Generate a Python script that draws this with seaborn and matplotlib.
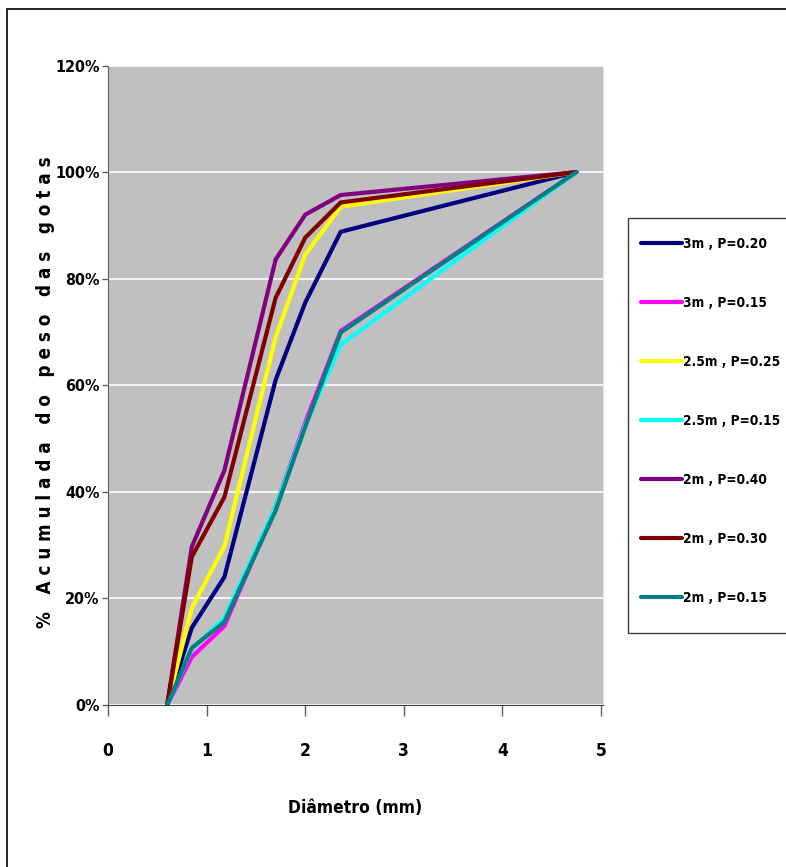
import numpy as np
import pandas as pd
import matplotlib
matplotlib.use("Agg")
import matplotlib.pyplot as plt
import seaborn as sns
from matplotlib.patches import Rectangle
from matplotlib.ticker import FuncFormatter

# sieve diameters (mm)
diametro = [0.6, 0.85, 1.18, 1.7, 2.0, 2.36, 4.75]

series = ["3m , P=0.20", "3m , P=0.15", "2.5m , P=0.25", "2.5m , P=0.15",
          "2m , P=0.40", "2m , P=0.30", "2m , P=0.15"]

# cumulative weight fractions
s_3m_020 = [0.0, 0.145, 0.24, 0.61, 0.755, 0.888, 1.0]
s_3m_015 = [0.0, 0.09, 0.148, 0.372, 0.53, 0.702, 1.0]
s_25m_025 = [0.0, 0.182, 0.298, 0.69, 0.845, 0.935, 1.0]
s_25m_015 = [0.0, 0.105, 0.163, 0.372, 0.525, 0.676, 1.0]
s_2m_040 = [0.0, 0.297, 0.44, 0.836, 0.92, 0.957, 1.0]
s_2m_030 = [0.0, 0.278, 0.39, 0.764, 0.877, 0.943, 1.0]
s_2m_015 = [0.0, 0.107, 0.156, 0.365, 0.522, 0.699, 1.0]

colors = ["#000080", "#FF00FF", "#FFFF00", "#00FFFF", "#800080", "#800000", "#008080"]

values = [s_3m_020, s_3m_015, s_25m_025, s_25m_015, s_2m_040, s_2m_030, s_2m_015]
rows = []
for name, vals in zip(series, values):
    for d, v in zip(diametro, vals):
        rows.append({"Diametro": d, "Acum": v, "Serie": name})
df = pd.DataFrame(rows)

sns.set_style("white", {"axes.facecolor": "#C0C0C0"})
plt.rcParams['font.family'] = ['DejaVu Sans']
plt.rcParams['font.stretch'] = 'condensed'
plt.rcParams['font.weight'] = 'bold'
plt.rcParams['text.color'] = 'black'
plt.rcParams['xtick.color'] = 'black'
plt.rcParams['ytick.color'] = 'black'

fig = plt.figure(figsize=(7.86, 8.67), dpi=100)
ax = fig.add_axes([108/786, 1 - 705/867, (603 - 108)/786, (705 - 65.5)/867])

sns.lineplot(data=df, x="Diametro", y="Acum", hue="Serie", hue_order=series,
             palette=colors, linewidth=3.0, ax=ax, legend=True, sort=False)

ax.set_xlim(0, 5.02)
ax.set_ylim(0, 1.2)
ax.set_xticks([0, 1, 2, 3, 4, 5])
ax.set_yticks(np.arange(0, 1.21, 0.2))
ax.yaxis.set_major_formatter(FuncFormatter(lambda v, p: f"{v*100:.0f}%"))
ax.grid(axis='y', color='white', linewidth=1.2)
ax.set_axisbelow(True)

ax.spines['top'].set_visible(False)
ax.spines['right'].set_color('#E0E0E0')
ax.spines['left'].set_color('#606060')
ax.spines['bottom'].set_color('#404040')
ax.tick_params(axis='y', direction='out', length=4, width=1, color='#606060',
               labelsize=11.5, labelcolor='black', pad=2, left=True)
ax.tick_params(axis='x', direction='out', length=8, width=1, color='#606060',
               labelsize=12.5, labelcolor='black', pad=19, bottom=True)
for lbl in ax.get_xticklabels() + ax.get_yticklabels():
    lbl.set_fontweight('bold')

ax.set_xlabel("Diâmetro (mm)", fontsize=12.5, fontweight='bold', labelpad=28, color='black')
ax.set_ylabel("")
fig.text(46/786, 1 - 392/867, "%   A c u m u l a d a   d o   p e s o   d a s   g o t a s",
         rotation=90, ha='center', va='center', fontsize=13.5, fontweight='bold', color='black')

# legend box
fig.patches.append(Rectangle((628/786, 1 - 633/867), 0.3, (633 - 218)/867,
                             transform=fig.transFigure, facecolor='white',
                             edgecolor='#404040', linewidth=1.0, zorder=1))

handles, labels = ax.get_legend_handles_labels()
ax.legend_.remove()
leg = fig.legend(handles, labels, loc='upper left',
                 bbox_to_anchor=(641/786, 1 - 237/867), borderaxespad=0,
                 frameon=False, labelspacing=3.3, handlelength=3.0,
                 handletextpad=0.1, borderpad=0,
                 prop={'weight': 'bold', 'size': 9.8, 'stretch': 'condensed',
                       'family': 'DejaVu Sans'})
leg.set_zorder(5)
for t in leg.get_texts():
    t.set_color('black')

# outer chart border
fig.patches.append(Rectangle((7/786, -0.1), 1.2, 1.1 - 9/867, transform=fig.transFigure,
                             fill=False, edgecolor='black', linewidth=1.2))

fig.savefig("out.png", dpi=100)
